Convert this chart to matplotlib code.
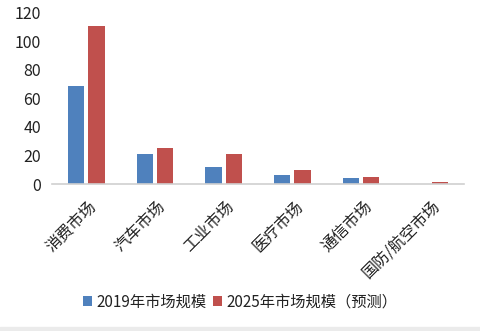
import numpy as np
import matplotlib.pyplot as plt
import matplotlib.transforms as mtrans
from matplotlib.patches import Rectangle

plt.rcParams['font.family'] = ['Noto Sans CJK SC', 'DejaVu Sans']

# 数据
categories = ["消费市场", "汽车市场", "工业市场", "医疗市场", "通信市场", "国防/航空市场"]
size_2019 = [68.5, 21, 12, 6.3, 4.2, 0.2]
size_2025 = [111, 25.2, 21, 9.8, 4.9, 1.6]
series_names = ["2019年市场规模", "2025年市场规模（预测）"]

fig = plt.figure(figsize=(4.81, 3.31), dpi=100)
ax = fig.add_axes([0.108, 0.444, 0.857, 0.517])

x = np.arange(len(categories))
w = 0.235
ax.bar(x - w / 2 - 0.03, size_2019, w, color="#4F81BD", label=series_names[0])
ax.bar(x + w / 2 + 0.03, size_2025, w, color="#C0504D", label=series_names[1])

ax.set_xlim(-0.5, len(categories) - 0.5)
ax.set_ylim(0, 120)
ax.set_yticks(range(0, 121, 20))
ax.tick_params(axis="y", length=0, labelsize=11.5, colors="#222222", pad=8)
ax.tick_params(axis="x", length=0, pad=10)
ax.set_xticks(x)
ax.set_xticklabels(categories, rotation=45, ha="right", rotation_mode="anchor",
                   fontsize=11.5, color="#222222")
# 标签稍向右移
shift = mtrans.ScaledTranslation(2 / 100, 0, fig.dpi_scale_trans)
for lbl in ax.get_xticklabels():
    lbl.set_transform(lbl.get_transform() + shift)

for s in ["top", "right", "left"]:
    ax.spines[s].set_visible(False)
ax.spines["bottom"].set_color("#D0D0D0")
ax.spines["bottom"].set_linewidth(1.2)

fig.legend(loc="center", bbox_to_anchor=(0.5, 0.088), ncol=2, frameon=False,
           fontsize=11, handlelength=0.6, handleheight=0.6, handletextpad=0.3,
           columnspacing=0.4, labelcolor="#222222")

# 底部灰条
fig.patches.append(Rectangle((0, 0), 1, 0.012, transform=fig.transFigure,
                             color="#EBEBEB", zorder=0))

fig.savefig("out.png", dpi=100)
